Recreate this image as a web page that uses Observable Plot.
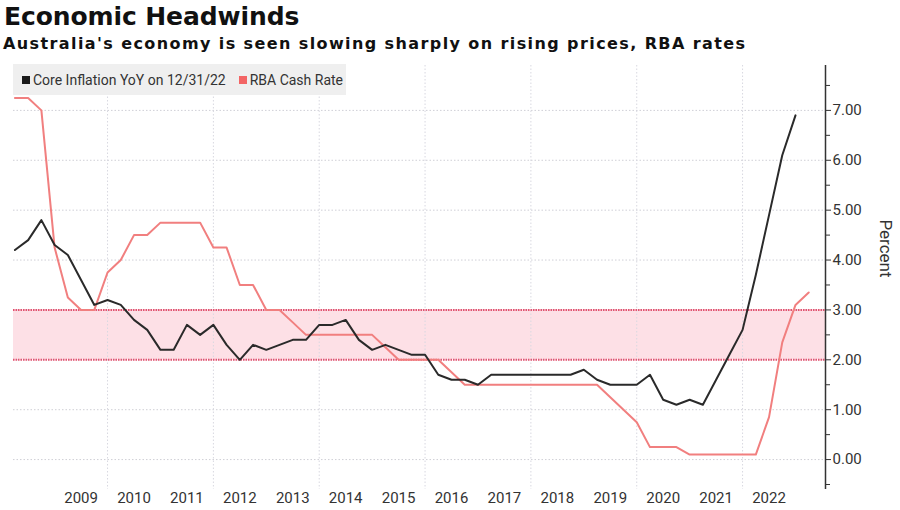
<!DOCTYPE html>
<html>
<head>
<meta charset="utf-8">
<script src="https://cdn.jsdelivr.net/npm/d3@7"></script>
<script src="https://cdn.jsdelivr.net/npm/@observablehq/plot@0.6"></script>
<style>
  html, body { margin: 0; padding: 0; background: #fff; }
  body { position: relative; width: 900px; height: 510px; overflow: hidden; }
  #title { position: absolute; left: 4px; top: 2px; font-family: "DejaVu Sans", sans-serif; font-weight: bold; font-size: 25px; line-height: 30px; color: #111; letter-spacing: -0.1px; }
  #subtitle { position: absolute; left: 3px; top: 34px; font-family: "DejaVu Sans", sans-serif; font-weight: bold; font-size: 16px; line-height: 20px; letter-spacing: 1.4px; color: #111; }
  #chart { position: absolute; left: 0; top: 60px; }
  #legend { position: absolute; left: 13px; top: 64px; width: 333px; height: 31px; background: #efefef; font-family: Roboto, sans-serif; font-size: 14px; color: #333; display: flex; align-items: center; }
  #legend .sw { display: inline-block; width: 8px; height: 8px; margin-right: 3px; }
  #legend .item { display: flex; align-items: center; margin-left: 9px; }
  #legend .item + .item { margin-left: 13px; }
</style>
</head>
<body>
<div id="title">Economic Headwinds</div>
<div id="subtitle">Australia's economy is seen slowing sharply on rising prices, RBA rates</div>
<div id="chart"></div>
<div id="legend">
  <div class="item"><span class="sw" style="background:#1a1a1a"></span>Core Inflation YoY on 12/31/22</div>
  <div class="item"><span class="sw" style="background:#f36565"></span>RBA Cash Rate</div>
</div>
<script>
// Quarterly observations, 2008 Q1 onward (quarter-end)
const coreInflation = [
  4.2, 4.4, 4.8, 4.3,   // 2008
  4.1, 3.6, 3.1, 3.2,   // 2009
  3.1, 2.8, 2.6, 2.2,   // 2010
  2.2, 2.7, 2.5, 2.7,   // 2011
  2.3, 2.0, 2.3, 2.2,   // 2012
  2.3, 2.4, 2.4, 2.7,   // 2013
  2.7, 2.8, 2.4, 2.2,   // 2014
  2.3, 2.2, 2.1, 2.1,   // 2015
  1.7, 1.6, 1.6, 1.5,   // 2016
  1.7, 1.7, 1.7, 1.7,   // 2017
  1.7, 1.7, 1.7, 1.8,   // 2018
  1.6, 1.5, 1.5, 1.5,   // 2019
  1.7, 1.2, 1.1, 1.2,   // 2020
  1.1, 1.6, 2.1, 2.6,   // 2021
  3.7, 4.9, 6.1, 6.9    // 2022
];
const cashRate = [
  7.25, 7.25, 7.0, 4.25,  // 2008
  3.25, 3.0, 3.0, 3.75,   // 2009
  4.0, 4.5, 4.5, 4.75,    // 2010
  4.75, 4.75, 4.75, 4.25, // 2011
  4.25, 3.5, 3.5, 3.0,    // 2012
  3.0, 2.75, 2.5, 2.5,    // 2013
  2.5, 2.5, 2.5, 2.5,     // 2014
  2.25, 2.0, 2.0, 2.0,    // 2015
  2.0, 1.75, 1.5, 1.5,    // 2016
  1.5, 1.5, 1.5, 1.5,     // 2017
  1.5, 1.5, 1.5, 1.5,     // 2018
  1.5, 1.25, 1.0, 0.75,   // 2019
  0.25, 0.25, 0.25, 0.1,  // 2020
  0.1, 0.1, 0.1, 0.1,     // 2021
  0.1, 0.85, 2.35, 3.1,   // 2022
  3.35                    // 2023 Q1
];
const firstYear = 2008;
const yearLabels = [2009, 2010, 2011, 2012, 2013, 2014, 2015, 2016, 2017, 2018, 2019, 2020, 2021, 2022];
const gridYears = [2010, 2012, 2014, 2016, 2018, 2020, 2022];
const yTicks = [0, 1, 2, 3, 4, 5, 6, 7];
const yMinorTicks = [-0.5, 0.5, 1.5, 2.5, 3.5, 4.5, 5.5, 6.5, 7.5];
const targetBand = { low: 2, high: 3 };

// quarter-end decimal year for index i
const qt = i => firstYear + 0.25 * (i + 1);
const inflData = coreInflation.map((v, i) => ({ t: qt(i), v }));
const cashData = cashRate.map((v, i) => ({ t: qt(i), v }));

const xMin = 2008.223, xMax = 2023.567;

const chart = Plot.plot({
  width: 900,
  height: 450,
  marginLeft: 13,
  marginRight: 75,
  marginTop: 5,
  marginBottom: 21,
  x: { domain: [xMin, xMax] },
  y: { domain: [-0.6, 7.9] },
  style: { fontFamily: "Roboto, sans-serif", fontSize: "15px", color: "#333", background: "transparent", overflow: "visible" },
  marks: [
    Plot.rect([targetBand], { x1: xMin, x2: xMax, y1: "low", y2: "high", fill: "#fde0e6" }),
    Plot.gridY(yTicks, { stroke: "#cfcfd6", strokeOpacity: 1, strokeDasharray: "1.5,2" }),
    Plot.gridX(gridYears, { stroke: "#d8d8e0", strokeOpacity: 1, strokeDasharray: "1.5,2" }),
    Plot.ruleY([targetBand.low, targetBand.high], { stroke: "#e4506f", strokeWidth: 2, strokeDasharray: "1.5,1" }),
    Plot.line(cashData, { x: "t", y: "v", stroke: "#f17f7f", strokeWidth: 2 }),
    Plot.line(inflData, { x: "t", y: "v", stroke: "#2a2a2a", strokeWidth: 2 }),
    Plot.ruleX([xMax], { stroke: "#333", strokeWidth: 1.5 }),
    Plot.axisY(yTicks, { anchor: "right", tickSize: 5, tickPadding: 2, tickFormat: d => d.toFixed(2), label: null, fontSize: 15, stroke: "#333" }),
    Plot.axisY(yMinorTicks, { anchor: "right", tickSize: 4, tickFormat: () => "", label: null, stroke: "#333" }),
    Plot.axisX(yearLabels.map(y => y + 0.5), { anchor: "bottom", tickSize: 0, tickPadding: 3, tickFormat: d => String(Math.floor(d)), label: null, fontSize: 15 }),
    Plot.text(["Percent"], { text: d => d, frameAnchor: "right", dx: 60, rotate: 90, fontSize: 17, fill: "#333" })
  ]
});
document.getElementById("chart").appendChild(chart);
</script>
</body>
</html>
